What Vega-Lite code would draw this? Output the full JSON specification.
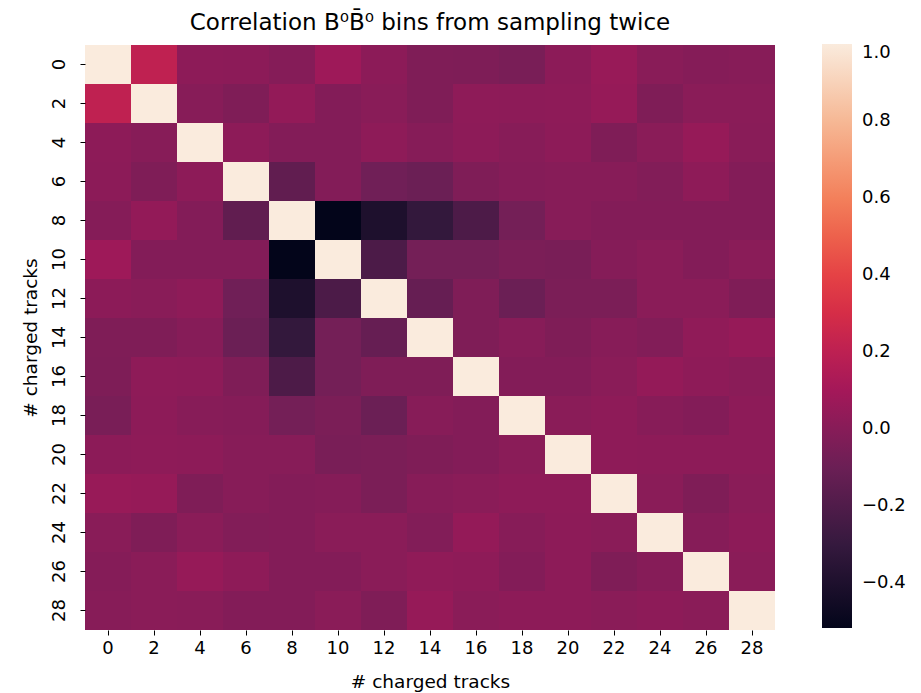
{
  "$schema": "https://vega.github.io/schema/vega-lite/v6.json",
  "autosize": {"type": "none"},
  "padding": {"left": 85, "top": 45, "right": 146, "bottom": 63},
  "width": 690,
  "height": 585,
  "background": "white",
  "title": {"text": "Correlation B⁰B̄⁰ bins from sampling twice", "font": "DejaVu Sans", "fontSize": 23, "fontWeight": "normal", "color": "black", "offset": 9, "anchor": "middle"},
  "config": {"view": {"stroke": null}, "font": "DejaVu Sans"},
  "data": {"values": [
    {"y":0,"x":0,"v":1},{"y":0,"x":2,"v":0.21},{"y":0,"x":4,"v":0.02},{"y":0,"x":6,"v":0.015},{"y":0,"x":8,"v":-0.01},{"y":0,"x":10,"v":0.08},{"y":0,"x":12,"v":0.015},{"y":0,"x":14,"v":-0.03},{"y":0,"x":16,"v":-0.035},{"y":0,"x":18,"v":-0.05},{"y":0,"x":20,"v":0.015},{"y":0,"x":22,"v":0.06},{"y":0,"x":24,"v":0.005},{"y":0,"x":26,"v":-0.01},{"y":0,"x":28,"v":0.0},
    {"y":2,"x":0,"v":0.21},{"y":2,"x":2,"v":1},{"y":2,"x":4,"v":0.0},{"y":2,"x":6,"v":-0.03},{"y":2,"x":8,"v":0.04},{"y":2,"x":10,"v":-0.015},{"y":2,"x":12,"v":0.005},{"y":2,"x":14,"v":-0.03},{"y":2,"x":16,"v":0.025},{"y":2,"x":18,"v":0.02},{"y":2,"x":20,"v":0.025},{"y":2,"x":22,"v":0.05},{"y":2,"x":24,"v":-0.03},{"y":2,"x":26,"v":0.01},{"y":2,"x":28,"v":0.01},
    {"y":4,"x":0,"v":0.02},{"y":4,"x":2,"v":0.0},{"y":4,"x":4,"v":1},{"y":4,"x":6,"v":0.02},{"y":4,"x":8,"v":-0.015},{"y":4,"x":10,"v":-0.015},{"y":4,"x":12,"v":0.025},{"y":4,"x":14,"v":-0.005},{"y":4,"x":16,"v":0.02},{"y":4,"x":18,"v":0.0},{"y":4,"x":20,"v":0.02},{"y":4,"x":22,"v":-0.03},{"y":4,"x":24,"v":0.01},{"y":4,"x":26,"v":0.05},{"y":4,"x":28,"v":0.005},
    {"y":6,"x":0,"v":0.015},{"y":6,"x":2,"v":-0.03},{"y":6,"x":4,"v":0.02},{"y":6,"x":6,"v":1},{"y":6,"x":8,"v":-0.14},{"y":6,"x":10,"v":-0.015},{"y":6,"x":12,"v":-0.085},{"y":6,"x":14,"v":-0.1},{"y":6,"x":16,"v":-0.03},{"y":6,"x":18,"v":-0.01},{"y":6,"x":20,"v":0.0},{"y":6,"x":22,"v":0.0},{"y":6,"x":24,"v":-0.02},{"y":6,"x":26,"v":0.025},{"y":6,"x":28,"v":-0.015},
    {"y":8,"x":0,"v":-0.01},{"y":8,"x":2,"v":0.04},{"y":8,"x":4,"v":-0.015},{"y":8,"x":6,"v":-0.14},{"y":8,"x":8,"v":1},{"y":8,"x":10,"v":-0.517},{"y":8,"x":12,"v":-0.4},{"y":8,"x":14,"v":-0.31},{"y":8,"x":16,"v":-0.21},{"y":8,"x":18,"v":-0.07},{"y":8,"x":20,"v":0.0},{"y":8,"x":22,"v":-0.015},{"y":8,"x":24,"v":-0.015},{"y":8,"x":26,"v":-0.015},{"y":8,"x":28,"v":-0.015},
    {"y":10,"x":0,"v":0.08},{"y":10,"x":2,"v":-0.015},{"y":10,"x":4,"v":-0.015},{"y":10,"x":6,"v":-0.015},{"y":10,"x":8,"v":-0.517},{"y":10,"x":10,"v":1},{"y":10,"x":12,"v":-0.215},{"y":10,"x":14,"v":-0.07},{"y":10,"x":16,"v":-0.07},{"y":10,"x":18,"v":-0.045},{"y":10,"x":20,"v":-0.05},{"y":10,"x":22,"v":-0.01},{"y":10,"x":24,"v":0.01},{"y":10,"x":26,"v":-0.015},{"y":10,"x":28,"v":0.01},
    {"y":12,"x":0,"v":0.015},{"y":12,"x":2,"v":0.005},{"y":12,"x":4,"v":0.025},{"y":12,"x":6,"v":-0.085},{"y":12,"x":8,"v":-0.4},{"y":12,"x":10,"v":-0.215},{"y":12,"x":12,"v":1},{"y":12,"x":14,"v":-0.12},{"y":12,"x":16,"v":-0.03},{"y":12,"x":18,"v":-0.1},{"y":12,"x":20,"v":-0.045},{"y":12,"x":22,"v":-0.045},{"y":12,"x":24,"v":0.01},{"y":12,"x":26,"v":0.01},{"y":12,"x":28,"v":-0.03},
    {"y":14,"x":0,"v":-0.03},{"y":14,"x":2,"v":-0.03},{"y":14,"x":4,"v":-0.005},{"y":14,"x":6,"v":-0.1},{"y":14,"x":8,"v":-0.31},{"y":14,"x":10,"v":-0.07},{"y":14,"x":12,"v":-0.12},{"y":14,"x":14,"v":1},{"y":14,"x":16,"v":-0.03},{"y":14,"x":18,"v":0.0},{"y":14,"x":20,"v":-0.03},{"y":14,"x":22,"v":0.0},{"y":14,"x":24,"v":-0.02},{"y":14,"x":26,"v":0.03},{"y":14,"x":28,"v":0.05},
    {"y":16,"x":0,"v":-0.035},{"y":16,"x":2,"v":0.025},{"y":16,"x":4,"v":0.02},{"y":16,"x":6,"v":-0.03},{"y":16,"x":8,"v":-0.21},{"y":16,"x":10,"v":-0.07},{"y":16,"x":12,"v":-0.03},{"y":16,"x":14,"v":-0.03},{"y":16,"x":16,"v":1},{"y":16,"x":18,"v":-0.015},{"y":16,"x":20,"v":-0.015},{"y":16,"x":22,"v":0.01},{"y":16,"x":24,"v":0.045},{"y":16,"x":26,"v":0.025},{"y":16,"x":28,"v":0.01},
    {"y":18,"x":0,"v":-0.05},{"y":18,"x":2,"v":0.02},{"y":18,"x":4,"v":0.0},{"y":18,"x":6,"v":-0.01},{"y":18,"x":8,"v":-0.07},{"y":18,"x":10,"v":-0.045},{"y":18,"x":12,"v":-0.1},{"y":18,"x":14,"v":0.0},{"y":18,"x":16,"v":-0.015},{"y":18,"x":18,"v":1},{"y":18,"x":20,"v":0.01},{"y":18,"x":22,"v":0.025},{"y":18,"x":24,"v":0.0},{"y":18,"x":26,"v":-0.015},{"y":18,"x":28,"v":0.02},
    {"y":20,"x":0,"v":0.015},{"y":20,"x":2,"v":0.025},{"y":20,"x":4,"v":0.02},{"y":20,"x":6,"v":0.0},{"y":20,"x":8,"v":0.0},{"y":20,"x":10,"v":-0.05},{"y":20,"x":12,"v":-0.045},{"y":20,"x":14,"v":-0.03},{"y":20,"x":16,"v":-0.015},{"y":20,"x":18,"v":0.01},{"y":20,"x":20,"v":1},{"y":20,"x":22,"v":0.025},{"y":20,"x":24,"v":0.02},{"y":20,"x":26,"v":0.02},{"y":20,"x":28,"v":0.02},
    {"y":22,"x":0,"v":0.06},{"y":22,"x":2,"v":0.05},{"y":22,"x":4,"v":-0.03},{"y":22,"x":6,"v":0.0},{"y":22,"x":8,"v":-0.015},{"y":22,"x":10,"v":-0.01},{"y":22,"x":12,"v":-0.045},{"y":22,"x":14,"v":0.0},{"y":22,"x":16,"v":0.01},{"y":22,"x":18,"v":0.025},{"y":22,"x":20,"v":0.025},{"y":22,"x":22,"v":1},{"y":22,"x":24,"v":0.01},{"y":22,"x":26,"v":-0.03},{"y":22,"x":28,"v":0.01},
    {"y":24,"x":0,"v":0.005},{"y":24,"x":2,"v":-0.03},{"y":24,"x":4,"v":0.01},{"y":24,"x":6,"v":-0.02},{"y":24,"x":8,"v":-0.015},{"y":24,"x":10,"v":0.01},{"y":24,"x":12,"v":0.01},{"y":24,"x":14,"v":-0.02},{"y":24,"x":16,"v":0.045},{"y":24,"x":18,"v":0.0},{"y":24,"x":20,"v":0.02},{"y":24,"x":22,"v":0.01},{"y":24,"x":24,"v":1},{"y":24,"x":26,"v":-0.005},{"y":24,"x":28,"v":0.02},
    {"y":26,"x":0,"v":-0.01},{"y":26,"x":2,"v":0.01},{"y":26,"x":4,"v":0.05},{"y":26,"x":6,"v":0.025},{"y":26,"x":8,"v":-0.015},{"y":26,"x":10,"v":-0.015},{"y":26,"x":12,"v":0.01},{"y":26,"x":14,"v":0.03},{"y":26,"x":16,"v":0.025},{"y":26,"x":18,"v":-0.015},{"y":26,"x":20,"v":0.02},{"y":26,"x":22,"v":-0.03},{"y":26,"x":24,"v":-0.005},{"y":26,"x":26,"v":1},{"y":26,"x":28,"v":0.01},
    {"y":28,"x":0,"v":0.0},{"y":28,"x":2,"v":0.01},{"y":28,"x":4,"v":0.005},{"y":28,"x":6,"v":-0.015},{"y":28,"x":8,"v":-0.015},{"y":28,"x":10,"v":0.01},{"y":28,"x":12,"v":-0.03},{"y":28,"x":14,"v":0.05},{"y":28,"x":16,"v":0.01},{"y":28,"x":18,"v":0.02},{"y":28,"x":20,"v":0.02},{"y":28,"x":22,"v":0.01},{"y":28,"x":24,"v":0.02},{"y":28,"x":26,"v":0.01},{"y":28,"x":28,"v":1}
  ]},
  "mark": {"type": "rect", "strokeWidth": 0},
  "encoding": {
    "x": {"field": "x", "type": "ordinal", "scale": {"paddingInner": 0, "paddingOuter": 0},
      "axis": {"title": "# charged tracks", "titleFontSize": 18.5, "titleFontWeight": "normal", "titleColor": "black", "titlePadding": 15,
        "labelFontSize": 18, "labelColor": "black", "labelAngle": 0, "labelPadding": 4, "tickSize": 5, "tickColor": "black", "tickWidth": 1, "domain": false}},
    "y": {"field": "y", "type": "ordinal", "scale": {"paddingInner": 0, "paddingOuter": 0},
      "axis": {"title": "# charged tracks", "titleFontSize": 18.5, "titleFontWeight": "normal", "titleColor": "black", "titlePadding": 10,
        "labelFontSize": 18, "labelColor": "black", "labelAngle": 270, "labelAlign": "center", "labelBaseline": "bottom", "labelPadding": 12, "tickSize": 5, "tickColor": "black", "tickWidth": 1, "domain": false}},
    "color": {"field": "v", "type": "quantitative",
      "scale": {"domain": [-0.517, -0.2999, -0.0833, 0.1334, 0.35, 0.5667, 0.7833, 1.0],
        "range": ["#03051a", "#35193e", "#701f57", "#ad1759", "#e13342", "#f37651", "#f6b48f", "#faebdd"], "interpolate": "rgb"},
      "legend": {"title": null, "orient": "none", "legendX": 737, "legendY": -1, "direction": "vertical", "gradientLength": 584, "gradientThickness": 30,
        "gradientStrokeWidth": 0, "values": [-0.4, -0.2, 0, 0.2, 0.4, 0.6, 0.8, 1.0], "format": ".1f", "labelFontSize": 18, "labelColor": "black", "labelOffset": 10, "padding": 0}}
  }
}
